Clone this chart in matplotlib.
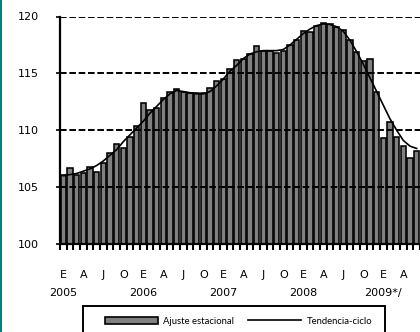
import numpy as np
import matplotlib.pyplot as plt
from matplotlib.patches import Rectangle
from matplotlib.lines import Line2D

# Indice mensual, enero 2005 - junio 2009
ajuste = [106.1, 106.7, 106.1, 106.2, 106.8, 106.3, 107.1, 108.0, 108.8, 108.4, 109.4, 110.4,
          112.4, 111.8, 112.0, 112.8, 113.4, 113.6, 113.4, 113.3, 113.3, 113.3, 113.7, 114.3,
          114.5, 115.4, 116.2, 116.3, 116.7, 117.4, 117.0, 117.0, 116.8, 117.0, 117.5, 117.9,
          118.7, 118.6, 119.2, 119.4, 119.3, 119.1, 118.8, 117.9, 116.9, 116.1, 116.3, 113.4,
          109.3, 110.7, 109.4, 108.6, 107.6, 108.2]
tendencia = [106.0, 106.1, 106.2, 106.4, 106.6, 106.9, 107.3, 107.8, 108.3, 109.0, 109.6, 110.2,
             110.8, 111.5, 112.1, 112.7, 113.2, 113.5, 113.4, 113.3, 113.2, 113.2, 113.4, 113.9,
             114.5, 115.2, 115.7, 116.3, 116.7, 116.9, 117.0, 117.0, 117.0, 117.1, 117.5, 118.0,
             118.5, 118.9, 119.2, 119.35, 119.3, 119.1, 118.7, 117.9, 116.9, 115.8, 114.6, 113.4,
             112.2, 111.0, 110.0, 109.1, 108.6, 108.4]
letras = ["E", "A", "J", "O"]
anios = ["2005", "2006", "2007", "2008", "2009*/"]

x = np.arange(len(ajuste))
ymin = 100

fig = plt.figure(figsize=(4.2, 3.32), dpi=100)
ax = fig.add_axes([60 / 420, 88 / 332, 360 / 420, 227.5 / 332])

ax.bar(x, np.array(ajuste) - ymin, bottom=ymin, width=0.76, color="#808080",
       edgecolor="black", linewidth=1.15, zorder=2)
ax.plot(x, tendencia, color="black", linewidth=1.2, zorder=4)

ax.set_ylim(100, 120)
ax.set_xlim(-0.5, 53.5)
ax.set_yticks([100, 105, 110, 115, 120])
ax.yaxis.grid(True, color="black", linewidth=1.4, linestyle=(0, (3.4, 1.4)), zorder=3)
ax.set_axisbelow(False)

for s in ["top", "right"]:
    ax.spines[s].set_visible(False)
for s in ["left", "bottom"]:
    ax.spines[s].set_linewidth(1.6)
    ax.spines[s].set_zorder(5)

# marcas entre meses y letras trimestrales
ax.set_xticks(np.arange(-0.5, 54, 1))
ax.set_xticklabels([])
ax.tick_params(axis="x", which="major", direction="out", length=4, width=1.5)
pos = np.arange(0, len(ajuste), 3)
ax.set_xticks(pos, minor=True)
ax.set_xticklabels([letras[i % 4] for i in range(len(pos))], minor=True, fontsize=8)
ax.tick_params(axis="x", which="minor", length=0, pad=19)
ax.tick_params(axis="y", length=3, width=1.2, pad=12, labelsize=8)

# años debajo de cada enero
for k, a in enumerate(anios):
    ax.text(12 * k, -49 / 227.5, a, transform=ax.get_xaxis_transform(),
            ha="center", va="center", fontsize=8)

handles = [Rectangle((0, 0), 1, 1, facecolor="#808080", edgecolor="black", linewidth=1.2),
           Line2D([0], [0], color="black", linewidth=1.2)]
leg = fig.legend(handles, ["Ajuste estacional", "Tendencia-ciclo"], loc="center left",
                 bbox_to_anchor=(105 / 420, 1 - 321 / 332), ncol=2, frameon=False,
                 prop={"family": "Lato", "size": 6.8}, handlelength=5.6, handleheight=0.7,
                 borderpad=0, borderaxespad=0, columnspacing=1.5, handletextpad=0.55)

# marco de la leyenda
fig.patches.append(Rectangle((83 / 420, -10 / 332), 302 / 420, 36 / 332, transform=fig.transFigure,
                             facecolor="none", edgecolor="black", linewidth=1.4))
fig.patches.append(Rectangle((0, 0), 2 / 420, 1, transform=fig.transFigure,
                             facecolor="#008080", edgecolor="none"))

fig.savefig("out.png", dpi=100)
